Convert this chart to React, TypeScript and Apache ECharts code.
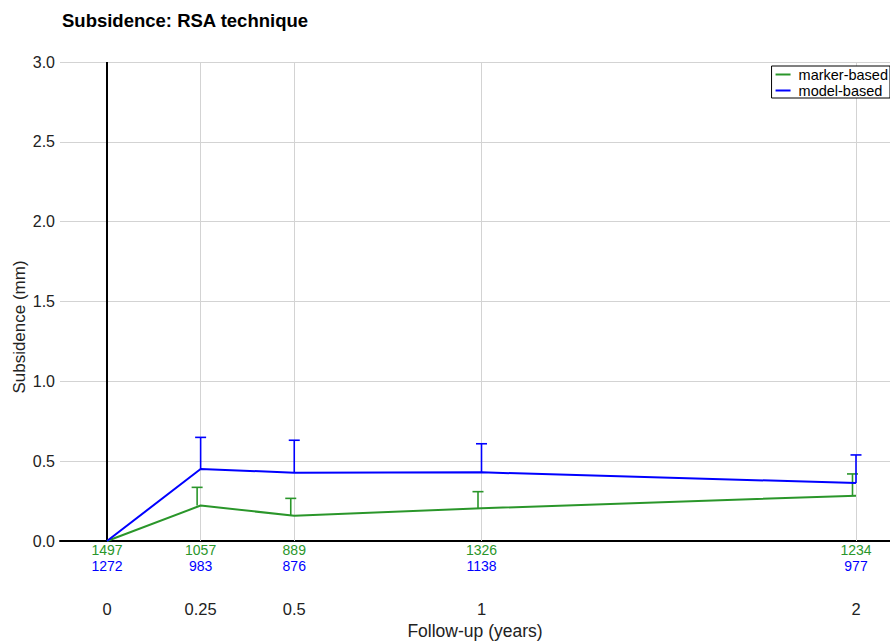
import React, { useEffect, useRef } from "react";
import * as echarts from "echarts";

const followUp = [0, 0.25, 0.5, 1, 2];
const tickLabels = ["0", "0.25", "0.5", "1", "2"];
const markerMean = [0, 0.222, 0.158, 0.205, 0.284];
const markerUpper = [null, 0.336, 0.267, 0.309, 0.42];
const modelMean = [0, 0.451, 0.428, 0.43, 0.363];
const modelUpper = [null, 0.649, 0.631, 0.609, 0.539];
const markerN = [1497, 1057, 889, 1326, 1234];
const modelN = [1272, 983, 876, 1138, 977];

const GREEN = "#2a962a";
const BLUE = "#0000ff";
const FONT = "Liberation Sans, Arial, sans-serif";

function errorSeries(name: string, means: number[], uppers: (number | null)[], color: string, dx: number) {
  const data = followUp
    .map((x, i) => (uppers[i] == null ? null : [x, means[i], uppers[i]]))
    .filter((d) => d !== null);
  return {
    type: "custom",
    name: name + "-err",
    z: 5,
    silent: true,
    color,
    itemStyle: { color },
    data,
    renderItem: (params: any, api: any) => {
      const p0 = api.coord([api.value(0), api.value(1)]);
      const p1 = api.coord([api.value(0), api.value(2)]);
      const x = p0[0] + dx;
      const yc = p1[1];
      return {
        type: "group",
        children: [
          {
            type: "line",
            shape: { x1: x, y1: p0[1], x2: x, y2: yc },
            style: { stroke: color, lineWidth: 1.6, fill: null },
          },
          {
            type: "line",
            shape: { x1: x - 5.5, y1: yc, x2: x + 5.5, y2: yc },
            style: { stroke: color, lineWidth: 1.6, fill: null },
          },
        ],
      };
    },
  };
}

export default function App() {
  const ref = useRef<HTMLDivElement>(null);
  useEffect(() => {
    document.body.style.margin = "0";
    const chart = echarts.init(ref.current!, null, { renderer: "svg" });
    const xMin = -0.1255;
    const xMax = 2.0908;
    chart.setOption({
      animation: false,
      backgroundColor: "#ffffff",
      textStyle: { fontFamily: FONT },
      title: {
        text: "Subsidence: RSA technique",
        left: 62,
        top: 11,
        padding: 0,
        textStyle: { fontSize: 18.5, fontWeight: "bold", color: "#000", fontFamily: FONT },
      },
      legend: {
        data: [
          { name: "marker-based", icon: "rect" },
          { name: "model-based", icon: "rect" },
        ],
        orient: "vertical",
        right: 0,
        top: 66,
        itemGap: 1,
        itemWidth: 15,
        itemHeight: 2,
        padding: [1, 2, 0, 4],
        borderColor: "#000",
        borderWidth: 1,
        backgroundColor: "#fff",
        textStyle: { fontSize: 14.5, color: "#000", fontFamily: FONT, padding: [0, 0, 0, 3], lineHeight: 13 },
      },
      grid: { left: 60, right: 0, top: 62, bottom: 100, containLabel: false, outerBoundsMode: "none" },
      xAxis: {
        type: "value",
        min: xMin,
        max: xMax,
        axisLine: { show: true, onZero: false, lineStyle: { color: "#000", width: 2 } },
        axisTick: { show: false },
        splitLine: { show: false },
        axisLabel: {
          customValues: followUp,
          margin: 0,
          formatter: (v: number) => {
            const i = followUp.indexOf(v);
            if (i < 0) return "";
            return `{g|${markerN[i]}}\n{b|${modelN[i]}}\n{t|${tickLabels[i]}}`;
          },
          rich: {
            g: { color: GREEN, fontSize: 14, lineHeight: 17, fontFamily: FONT },
            b: { color: BLUE, fontSize: 14, lineHeight: 16, fontFamily: FONT },
            t: { color: "#222", fontSize: 16.5, lineHeight: 70, fontFamily: FONT },
          },
        },
        name: "Follow-up (years)",
        nameLocation: "middle",
        nameGap: 77,
        nameTextStyle: { fontSize: 17.5, color: "#222", fontFamily: FONT },
      },
      yAxis: {
        type: "value",
        min: 0,
        max: 3,
        interval: 0.5,
        axisLine: { show: false },
        axisTick: { show: false },
        splitLine: { show: true, lineStyle: { color: "#d3d3d3", width: 1 } },
        axisLabel: {
          formatter: (v: number) => v.toFixed(1),
          fontSize: 16,
          color: "#222",
          margin: 5,
          fontFamily: FONT,
        },
      },
      graphic: [
        {
          type: "text",
          x: 19,
          y: 327,
          rotation: Math.PI / 2,
          style: {
            text: "Subsidence (mm)",
            fontSize: 17,
            fill: "#222",
            fontFamily: FONT,
            align: "center",
            verticalAlign: "middle",
          },
        },
      ],
      series: [
        {
          type: "line",
          name: "grid-lines",
          data: [],
          z: 1,
          silent: true,
          markLine: {
            z: 1,
            silent: true,
            symbol: "none",
            label: { show: false },
            animation: false,
            data: [
              ...followUp.slice(1).map((x) => ({
                xAxis: x,
                lineStyle: { color: "#d3d3d3", width: 1, type: "solid" },
              })),
              { xAxis: 0, lineStyle: { color: "#000", width: 2, type: "solid" } },
            ],
          },
        },
        {
          type: "line",
          name: "marker-based",
          data: followUp.map((x, i) => [x, markerMean[i]]),
          symbol: "none",
          z: 6,
          color: GREEN,
          itemStyle: { color: GREEN },
          lineStyle: { color: GREEN, width: 2 },
        },
        {
          type: "line",
          name: "model-based",
          data: followUp.map((x, i) => [x, modelMean[i]]),
          symbol: "none",
          z: 6,
          color: BLUE,
          itemStyle: { color: BLUE },
          lineStyle: { color: BLUE, width: 2 },
        },
        errorSeries("marker-based", markerMean, markerUpper, GREEN, -3.5),
        errorSeries("model-based", modelMean, modelUpper, BLUE, 0),
      ],
    });
    return () => chart.dispose();
  }, []);
  return <div ref={ref} style={{ width: 890, height: 641 }} />;
}
